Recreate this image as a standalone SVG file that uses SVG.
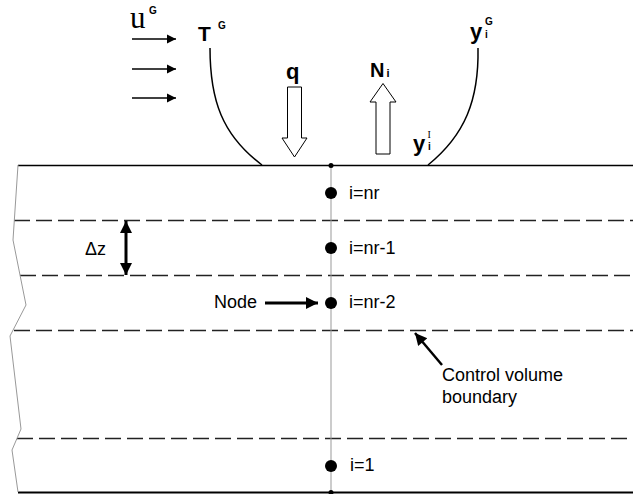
<svg xmlns="http://www.w3.org/2000/svg" width="633" height="494" viewBox="0 0 633 494">
<style>
.t{font-family:"Liberation Sans",Arial,sans-serif;fill:#000}
.b{font-family:"Liberation Sans",Arial,sans-serif;font-weight:bold;fill:#000}
.s{font-family:"Liberation Serif","Times New Roman",serif;fill:#000}
.dash{stroke:#222;stroke-width:1.3;stroke-dasharray:16 6;fill:none}
.gray{stroke:#999;stroke-width:1;fill:none}
.solid{stroke:#000;fill:none}
.hollow{fill:#fff;stroke:#000;stroke-width:1}
</style>
<defs>
<marker id="ah" viewBox="0 0 10 10" refX="10" refY="5" markerWidth="9" markerHeight="10" markerUnits="userSpaceOnUse" orient="auto">
<path d="M0,0 L10,5 L0,10 z" fill="#000"/>
</marker>
<marker id="ahb" viewBox="0 0 10 10" refX="10" refY="5" markerWidth="15" markerHeight="12" markerUnits="userSpaceOnUse" orient="auto-start-reverse">
<path d="M0,0 L10,5 L0,10 z" fill="#000"/>
</marker>
</defs>
<rect width="633" height="494" fill="#fff"/>
<g id="layers">
<line class="solid" x1="18" y1="165.5" x2="633" y2="165.5" stroke-width="1.5"/>
<line class="solid" x1="18" y1="492.5" x2="633" y2="492.5" stroke-width="2"/>
<line class="dash" x1="14" y1="220.5" x2="633" y2="220.5"/>
<line class="dash" x1="20" y1="275.5" x2="633" y2="275.5"/>
<line class="dash" x1="14" y1="330.5" x2="633" y2="330.5"/>
<line class="dash" x1="17" y1="438.5" x2="633" y2="438.5"/>
<polyline class="gray" points="18,165 13,240 26,305 10,336 21,429 12,450 18,492"/>
<line class="gray" x1="331" y1="165" x2="331" y2="492"/>
<circle cx="331" cy="165.5" r="2.5" fill="#000"/>
<circle cx="331" cy="492.5" r="2.5" fill="#000"/>
</g>
<g id="node-nr"><circle cx="331" cy="193" r="6" fill="#000"/><text class="t" x="349" y="199" font-size="18">i=nr</text></g>
<g id="node-nr-1"><circle cx="331" cy="248" r="6" fill="#000"/><text class="t" x="349" y="254" font-size="18">i=nr-1</text></g>
<g id="node-nr-2"><circle cx="331" cy="303" r="6" fill="#000"/><text class="t" x="349" y="308" font-size="18">i=nr-2</text></g>
<g id="node-1"><circle cx="331" cy="466" r="6" fill="#000"/><text class="t" x="350" y="471" font-size="18">i=1</text></g>
<g id="labels">
<text class="s" x="130" y="28" font-size="31">u</text>
<text class="b" x="149" y="14" font-size="10">G</text>
<text class="b" x="198" y="41" font-size="21">T</text>
<text class="b" x="218" y="29" font-size="10">G</text>
<text class="b" x="286" y="79" font-size="22">q</text>
<text class="b" x="370" y="77" font-size="20">N</text>
<text class="b" x="386.5" y="77" font-size="11">i</text>
<text class="b" x="470" y="39" font-size="22">y</text>
<text class="b" x="485" y="38" font-size="10">i</text>
<text class="b" x="485" y="25" font-size="10">G</text>
<text class="b" x="413" y="151" font-size="22">y</text>
<text class="b" x="428" y="150" font-size="10">i</text>
<text class="s" x="427.5" y="138" font-size="10">I</text>
<text class="t" x="85" y="255" font-size="18">Δz</text>
<text class="t" x="214" y="308" font-size="18">Node</text>
<text class="t" x="442" y="381" font-size="18">Control volume</text>
<text class="t" x="442" y="403" font-size="18">boundary</text>
</g>
<g id="connectors">
<line x1="132" y1="39" x2="176" y2="39" stroke="#000" stroke-width="1.3" marker-end="url(#ah)"/>
<line x1="132" y1="69" x2="176" y2="69" stroke="#000" stroke-width="1.3" marker-end="url(#ah)"/>
<line x1="132" y1="98" x2="176" y2="98" stroke="#000" stroke-width="1.3" marker-end="url(#ah)"/>
<path class="solid" stroke-width="1.5" d="M210,48 C210,100 222,135 262,165"/>
<path class="solid" stroke-width="1.5" d="M478,48 C479,100 465,135 428,165"/>
<path class="hollow" d="M287.5,87 L301.5,87 L301.5,138 L307,138 L294.5,157 L282,138 L287.5,138 Z"/>
<path class="hollow" d="M376,154 L390,154 L390,102 L396,102 L383,83.5 L370,102 L376,102 Z"/>
<line x1="126" y1="221" x2="126" y2="275" stroke="#000" stroke-width="3" marker-start="url(#ahb)" marker-end="url(#ahb)"/>
<line x1="265" y1="303" x2="318" y2="303" stroke="#000" stroke-width="3" marker-end="url(#ahb)"/>
<line x1="442" y1="365" x2="415" y2="333" stroke="#000" stroke-width="2.5" marker-end="url(#ahb)"/>
</g>
</svg>
